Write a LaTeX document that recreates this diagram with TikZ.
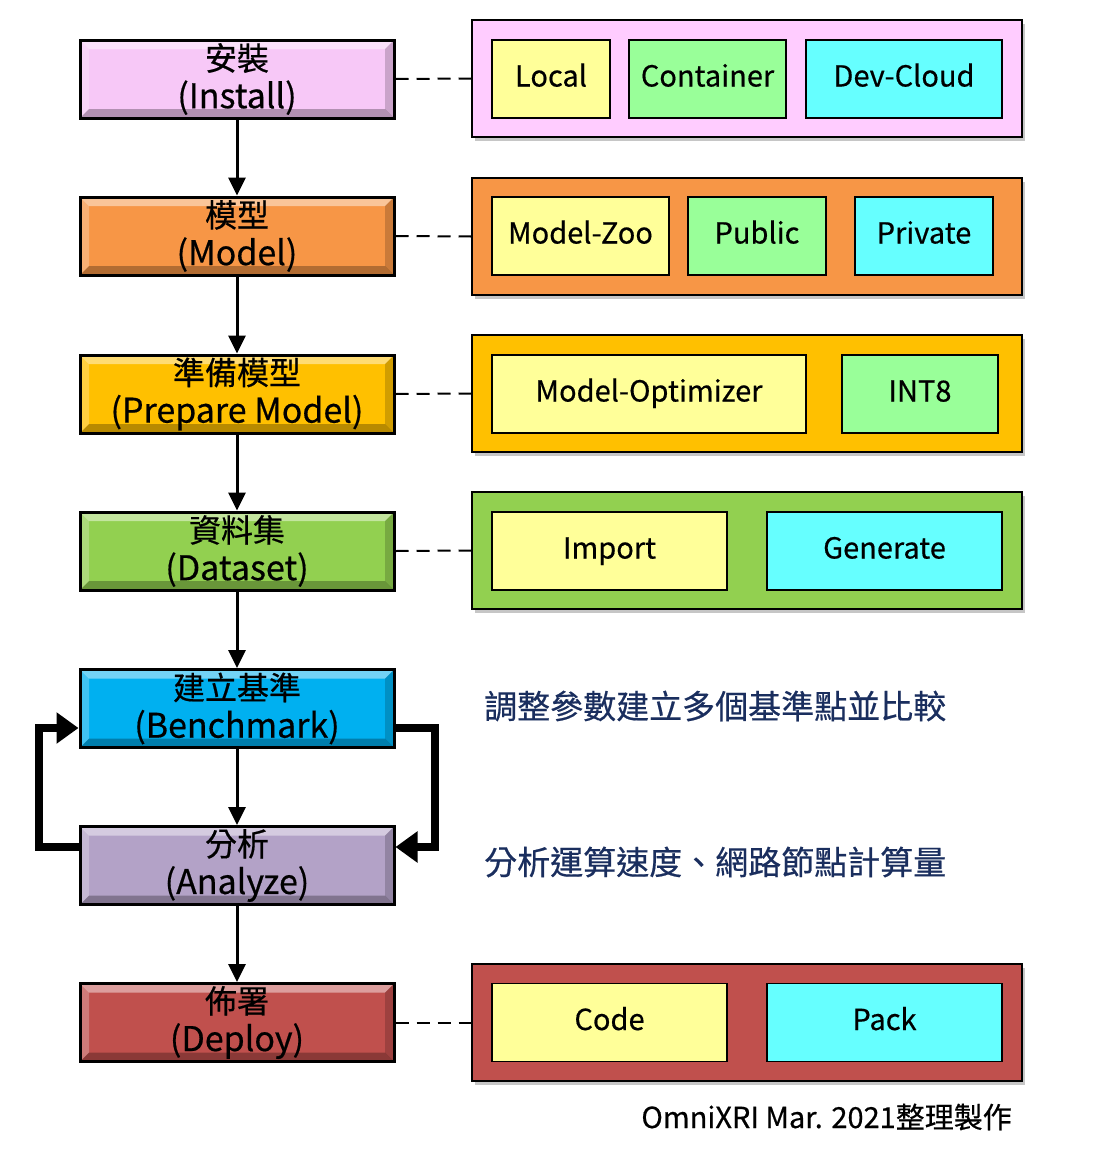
\documentclass[tikz,border=0pt]{standalone}
\usepackage{fontspec}
\setmainfont{Noto Sans CJK TC}[FakeBold=0.5]
\usetikzlibrary{shadows,arrows.meta,calc}
\definecolor{cInst}{HTML}{F7C8F7}
\definecolor{pInst}{HTML}{FFCCFF}
\definecolor{cModel}{HTML}{F79646}
\definecolor{cPrep}{HTML}{FFC000}
\definecolor{cData}{HTML}{92D050}
\definecolor{cBench}{HTML}{00B0F0}
\definecolor{cAna}{HTML}{B3A2C7}
\definecolor{cDep}{HTML}{C0504D}
\definecolor{iYel}{HTML}{FFFF99}
\definecolor{iGrn}{HTML}{99FF99}
\definecolor{iCya}{HTML}{66FFFF}
\definecolor{navy}{HTML}{1A2E5E}
\newcommand{\stg}[2]{{\fontsize{32}{38}\selectfont #1}\\{\fontsize{34}{38}\selectfont #2}}
\tikzset{
  stage/.style={draw=black, line width=3pt, minimum width=314pt, minimum height=78pt,
    inner sep=0pt, align=center, font=\fontsize{32}{38}\selectfont,
    path picture={
      \coordinate (A) at (path picture bounding box.north west);
      \coordinate (B) at (path picture bounding box.north east);
      \coordinate (C) at (path picture bounding box.south east);
      \coordinate (D) at (path picture bounding box.south west);
      \coordinate (a) at ($(A)+(9pt,-9pt)$);
      \coordinate (b) at ($(B)+(-9pt,-9pt)$);
      \coordinate (c) at ($(C)+(-9pt,9pt)$);
      \coordinate (d) at ($(D)+(9pt,9pt)$);
      \fill[white,opacity=0.45] (A)--(B)--(b)--(a)--cycle;
      \fill[white,opacity=0.25] (A)--(a)--(d)--(D)--cycle;
      \fill[black,opacity=0.28] (D)--(d)--(c)--(C)--cycle;
      \fill[black,opacity=0.18] (B)--(C)--(c)--(b)--cycle;
    }},
  panel/.style={draw=black, line width=1.6pt, minimum width=550pt, minimum height=117pt,
    inner sep=0pt, drop shadow={opacity=0.45, shadow xshift=3pt, shadow yshift=-4pt}},
  item/.style={draw=black, line width=1.6pt, minimum height=78pt, inner sep=0pt,
    text height=22pt, text depth=7pt, font=\fontsize{29}{32}\selectfont},
  flow/.style={line width=3pt, -{Triangle[length=18pt,width=17pt]}},
  loopline/.style={line width=8pt, -{Triangle[length=22pt,width=30pt]}},
  link/.style={line width=2pt, dash pattern=on 13pt off 8pt},
  note/.style={anchor=west, text=navy, font=\fontsize{33}{36}\selectfont, inner sep=0pt}
}
\begin{document}
\begin{tikzpicture}[x=1pt,y=-1pt]
\useasboundingbox (0,0) rectangle (1102,1151);
% right panels (drawn first)
\node[panel, fill=pInst] (p1) at (747,78.5) {};
\node[panel, fill=cModel] (p2) at (747,236.5) {};
\node[panel, fill=cPrep] (p3) at (747,393.5) {};
\node[panel, fill=cData] (p4) at (747,550.5) {};
\node[panel, fill=cDep] (p7) at (747,1022.5) {};
% inner items
\node[item, fill=iYel, minimum width=118pt] (local) at (551,79) {Local};
\node[item, fill=iGrn, minimum width=157pt] (cont) at (707.5,79) {Container};
\node[item, fill=iCya, minimum width=196pt] (dev) at (904,79) {Dev-Cloud};
\node[item, fill=iYel, minimum width=177pt] (zoo) at (580.5,236) {Model-Zoo};
\node[item, fill=iGrn, minimum width=138pt] (pub) at (757,236) {Public};
\node[item, fill=iCya, minimum width=138pt] (priv) at (924,236) {Private};
\node[item, fill=iYel, minimum width=314pt] (mo) at (649,394) {Model-Optimizer};
\node[item, fill=iGrn, minimum width=156pt] (int8) at (920,394) {INT8};
\node[item, fill=iYel, minimum width=235pt] (imp) at (609.5,551) {Import};
\node[item, fill=iCya, minimum width=235pt] (gen) at (884.5,551) {Generate};
\node[item, fill=iYel, minimum width=235pt] (code) at (609.5,1022.5) {Code};
\node[item, fill=iCya, minimum width=235pt] (pack) at (884.5,1022.5) {Pack};
% stages
\node[stage, fill=cInst] (s1) at (237,79) {\stg{安裝}{(Install)}};
\node[stage, fill=cModel] (s2) at (237,236) {\stg{模型}{(Model)}};
\node[stage, fill=cPrep] (s3) at (237,394) {\stg{準備模型}{(Prepare Model)}};
\node[stage, fill=cData] (s4) at (237,551) {\stg{資料集}{(Dataset)}};
\node[stage, fill=cBench] (s5) at (237,708.5) {\stg{建立基準}{(Benchmark)}};
\node[stage, fill=cAna] (s6) at (237,865.5) {\stg{分析}{(Analyze)}};
\node[stage, fill=cDep] (s7) at (237,1022.5) {\stg{佈署}{(Deploy)}};
% flow arrows
\draw[flow] (s1) -- (s2);
\draw[flow] (s2) -- (s3);
\draw[flow] (s3) -- (s4);
\draw[flow] (s4) -- (s5);
\draw[flow] (s5) -- (s6);
\draw[flow] (s6) -- (s7);
% loop
\draw[loopline] ([yshift=18.5pt]s6.west) -- ++(-40,0) |- ([yshift=-19.5pt]s5.west);
\draw[loopline] ([yshift=-19.5pt]s5.east) -- ++(39,0) |- ([yshift=18.5pt]s6.east);
% dashed links
\draw[link] (s1.east) -- (p1.west);
\draw[link] (s2.east) -- (p2.west);
\draw[link] (s3.east) -- (p3.west);
\draw[link] (s4.east) -- (p4.west);
\draw[link] (s7.east) -- (p7.west);
% notes
\node[note] (n1) at (484,706) {調整參數建立多個基準點並比較};
\node[note] (n2) at (484,862) {分析運算速度、網路節點計算量};
\node[anchor=east, inner sep=0pt, font=\fontsize{29}{32}\selectfont] (credit) at (1012,1117) {OmniXRI Mar. 2021整理製作};
\end{tikzpicture}
\end{document}
